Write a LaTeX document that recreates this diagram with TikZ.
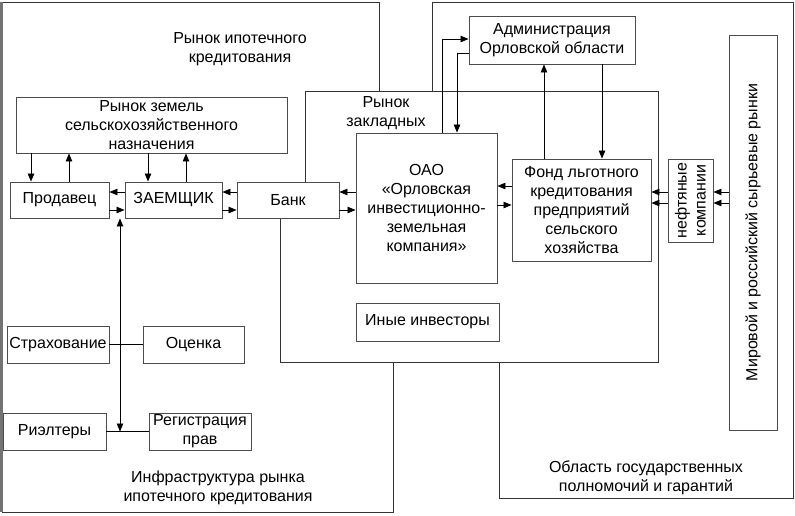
\documentclass[tikz,border=0pt]{standalone}
\usepackage{fontspec}
\setmainfont{Liberation Sans}
\usepackage{tikz}
\usetikzlibrary{arrows.meta,positioning}

\begin{document}
\begin{tikzpicture}
[x=1pt,y=-1pt,
 box/.style={rectangle,draw=black!70,line width=0.9pt,align=center,inner sep=1pt,font=\fontsize{16}{19}\selectfont},
 lbl/.style={align=center,font=\fontsize{16}{19}\selectfont},
 arr/.style={line width=0.8pt,-{Triangle[length=8pt,width=6.5pt]}},
 both/.style={line width=0.8pt,{Triangle[length=8pt,width=6.5pt]}-{Triangle[length=8pt,width=6.5pt]}}]
\useasboundingbox (0,0) rectangle (795,515);
% areas
\draw[black!80,line width=0.9pt] (379,91) -- (379,2) -- (2,2) -- (2,512) -- (393,512) -- (393,362);
\draw[black!55,line width=2.5pt] (1.5,2) -- (1.5,512);
\draw[black!80,line width=0.9pt] (432,91) -- (432,2) -- (793,2) -- (793,498) -- (499,498) -- (499,362);
\draw[black!80,line width=0.9pt] (305,182) -- (305,91) -- (658,91) -- (658,362) -- (280,362) -- (280,218);
\node[lbl] (ipot) at (240,49) {Рынок ипотечного\\кредитования};
\node[lbl] (zakl) at (386,113) {Рынок\\закладных};
\node[lbl] (infra) at (218,488) {Инфраструктура рынка\\ипотечного кредитования};
\node[lbl] (gos) at (646,478) {Область государственных\\полномочий и гарантий};

% boxes
\node[box,minimum width=271pt,minimum height=56pt] (zem) at (151.5,125) {Рынок земель\\сельскохозяйственного\\назначения};
\node[box,minimum width=99pt,minimum height=36pt] (prod) at (59.5,200) {Продавец};
\node[box,minimum width=97pt,minimum height=36pt] (zaem) at (173.5,200) {ЗАЕМЩИК};
\node[box,minimum width=102pt,minimum height=36pt] (bank) at (288,200) {Банк};
\node[box,minimum width=141pt,minimum height=150pt] (oao) at (426.5,208) {ОАО\\«Орловская\\инвестиционно-\\земельная\\компания»};
\node[box,minimum width=139pt,minimum height=102pt] (fond) at (581.5,210) {Фонд льготного\\кредитования\\предприятий\\сельского\\хозяйства};
\node[box,minimum width=166pt,minimum height=48pt] (admin) at (552,40) {Администрация\\Орловской области};
\node[box,rotate=90,minimum width=83pt,minimum height=45pt] (neft) at (690.5,200.5) {нефтяные\\компании};
\node[box,rotate=90,minimum width=395pt,minimum height=48pt] (mir) at (753,232.5) {Мировой и российский сырьевые рынки};
\node[box,minimum width=143pt,minimum height=38pt] (inv) at (427.5,322) {Иные инвесторы};
\node[box,minimum width=102pt,minimum height=37pt] (strah) at (58,344.5) {Страхование};
\node[box,minimum width=101pt,minimum height=37pt] (ocen) at (193.5,344.5) {Оценка};
\node[box,minimum width=103pt,minimum height=37pt] (riel) at (54.5,431.5) {Риэлтеры};
\node[box,minimum width=102pt,minimum height=37pt] (reg) at (200,431.5) {Регистрация\\прав};

% levels
\coordinate (hi) at (0,192);
\coordinate (lo) at (0,210);
\coordinate (fhi) at (0,186);
\coordinate (flo) at (0,205);
\coordinate (nlo) at (0,203);
\coordinate (v1) at (31,0);
\coordinate (v2) at (69,0);
\coordinate (v3) at (148,0);
\coordinate (v4) at (186,0);
\coordinate (v5) at (120,0);
\coordinate (a1) at (442,39);
\coordinate (a2) at (457,53);
\coordinate (f1) at (544,0);
\coordinate (f2) at (602,0);

% connectors
\draw[arr] (v1 |- zem.south) -- (v1 |- prod.north);
\draw[arr] (v2 |- prod.north) -- (v2 |- zem.south);
\draw[arr] (v3 |- zem.south) -- (v3 |- zaem.north);
\draw[arr] (v4 |- zaem.north) -- (v4 |- zem.south);
\draw[arr] (zaem.west |- hi) -- (prod.east |- hi);
\draw[arr] (prod.east |- lo) -- (zaem.west |- lo);
\draw[arr] (bank.west |- hi) -- (zaem.east |- hi);
\draw[arr] (zaem.east |- lo) -- (bank.west |- lo);
\draw[arr] (oao.west |- hi) -- (bank.east |- hi);
\draw[arr] (bank.east |- lo) -- (oao.west |- lo);
\draw[arr] (fond.west |- fhi) -- (oao.east |- fhi);
\draw[arr] (oao.east |- flo) -- (fond.west |- flo);
\draw[arr] (oao.north -| a1) |- (admin.west |- a1);
\draw[arr] (admin.west |- a2) -| (oao.north -| a2);
\draw[arr] (fond.north -| f1) -- (admin.south -| f1);
\draw[arr] (admin.south -| f2) -- (fond.north -| f2);
\draw[arr] (neft.north |- hi) -- (fond.east |- hi);
\draw[arr] (neft.north |- nlo) -- (fond.east |- nlo);
\draw[arr] (mir.north |- hi) -- (neft.south |- hi);
\draw[arr] (mir.north |- nlo) -- (neft.south |- nlo);
\draw[both] (v5 |- zaem.south) -- (v5 |- riel.east);
\draw[line width=0.8pt] (strah.east) -- (ocen.west);
\draw[line width=0.8pt] (riel.east) -- (reg.west);
\end{tikzpicture}
\end{document}
